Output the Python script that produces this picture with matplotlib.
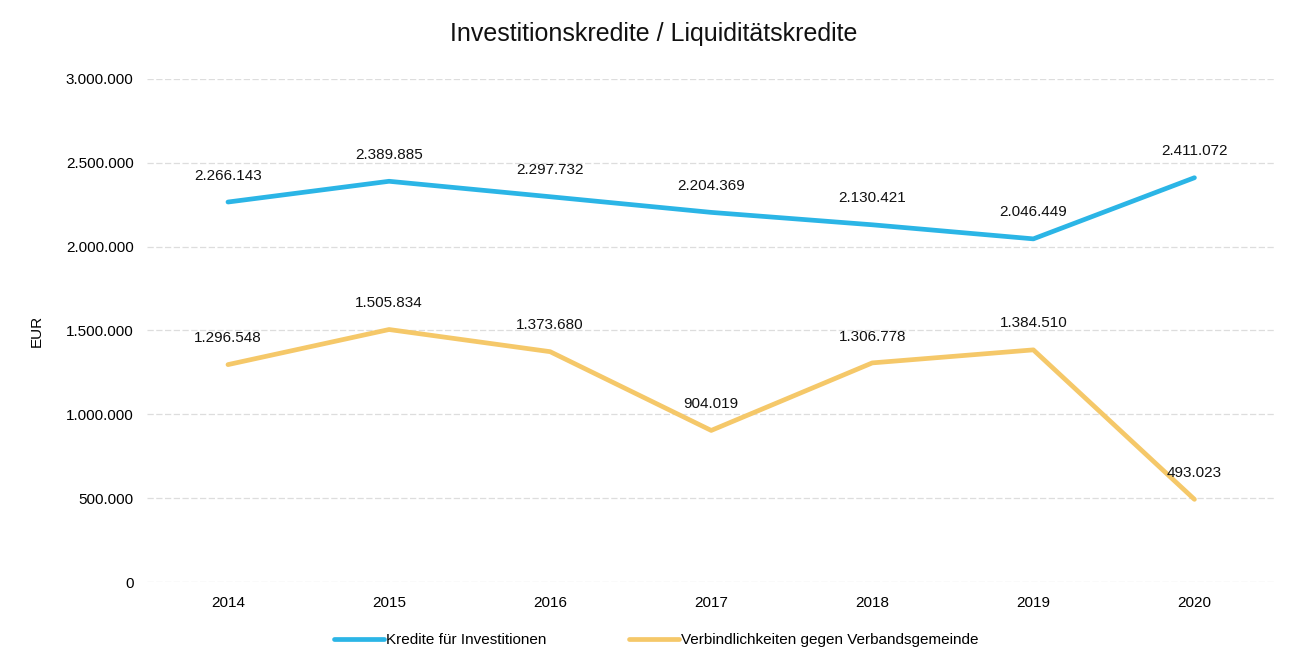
import matplotlib
matplotlib.use("Agg")
import matplotlib.pyplot as plt

plt.rcParams['font.family'] = ['Liberation Sans', 'DejaVu Sans']

years = ["2014", "2015", "2016", "2017", "2018", "2019", "2020"]
kredite = [2266143, 2389885, 2297732, 2204369, 2130421, 2046449, 2411072]
verbindlichkeiten = [1296548, 1505834, 1373680, 904019, 1306778, 1384510, 493023]
yticks = [0, 500000, 1000000, 1500000, 2000000, 2500000, 3000000]
ytick_labels = ["0", "500.000", "1.000.000", "1.500.000", "2.000.000", "2.500.000", "3.000.000"]

def fmt(v):
    return f"{v:,}".replace(",", ".")

fig = plt.figure(figsize=(12.99, 6.67), dpi=100)
ax = fig.add_axes([0.1135, 0.1274, 0.868, 0.7542])

x = list(range(len(years)))
blue = "#2BB5E6"
yellow = "#F5C869"
ax.plot(x, kredite, color=blue, lw=3.4, solid_capstyle='round', label="Kredite für Investitionen", zorder=3)
ax.plot(x, verbindlichkeiten, color=yellow, lw=3.4, solid_capstyle='round', label="Verbindlichkeiten gegen Verbandsgemeinde", zorder=3)

for xi, v in zip(x, kredite):
    ax.annotate(fmt(v), (xi, v), xytext=(0, 19), textcoords='offset points',
                ha='center', va='center', fontsize=11, color='#111111')
for xi, v in zip(x, verbindlichkeiten):
    ax.annotate(fmt(v), (xi, v), xytext=(0, 19), textcoords='offset points',
                ha='center', va='center', fontsize=11, color='#111111')

ax.set_xlim(-0.5, len(years) - 0.5)
ax.set_ylim(0, 3000000)
ax.set_xticks(x)
ax.set_xticklabels(years, fontsize=11)
ax.set_yticks(yticks)
ax.set_yticklabels(ytick_labels, fontsize=11)
ax.tick_params(axis='x', length=0, pad=10)
ax.tick_params(axis='y', length=0, pad=10)
ax.grid(axis='y', color='#dddddd', lw=0.9, linestyle=(0, (5, 2)))
ax.set_axisbelow(True)
for s in ax.spines.values():
    s.set_visible(False)
ax.set_ylabel("EUR", fontsize=11, labelpad=16)

fig.text(0.503, 0.949, "Investitionskredite / Liquiditätskredite", ha='center', va='center', fontsize=18, color='#111111')

fig.legend(loc='center', bbox_to_anchor=(0.505, 0.04), ncol=2, frameon=False, fontsize=11,
           handlelength=3.3, handletextpad=0.1, columnspacing=5.4)

fig.savefig("out.png", dpi=100, facecolor='white')
